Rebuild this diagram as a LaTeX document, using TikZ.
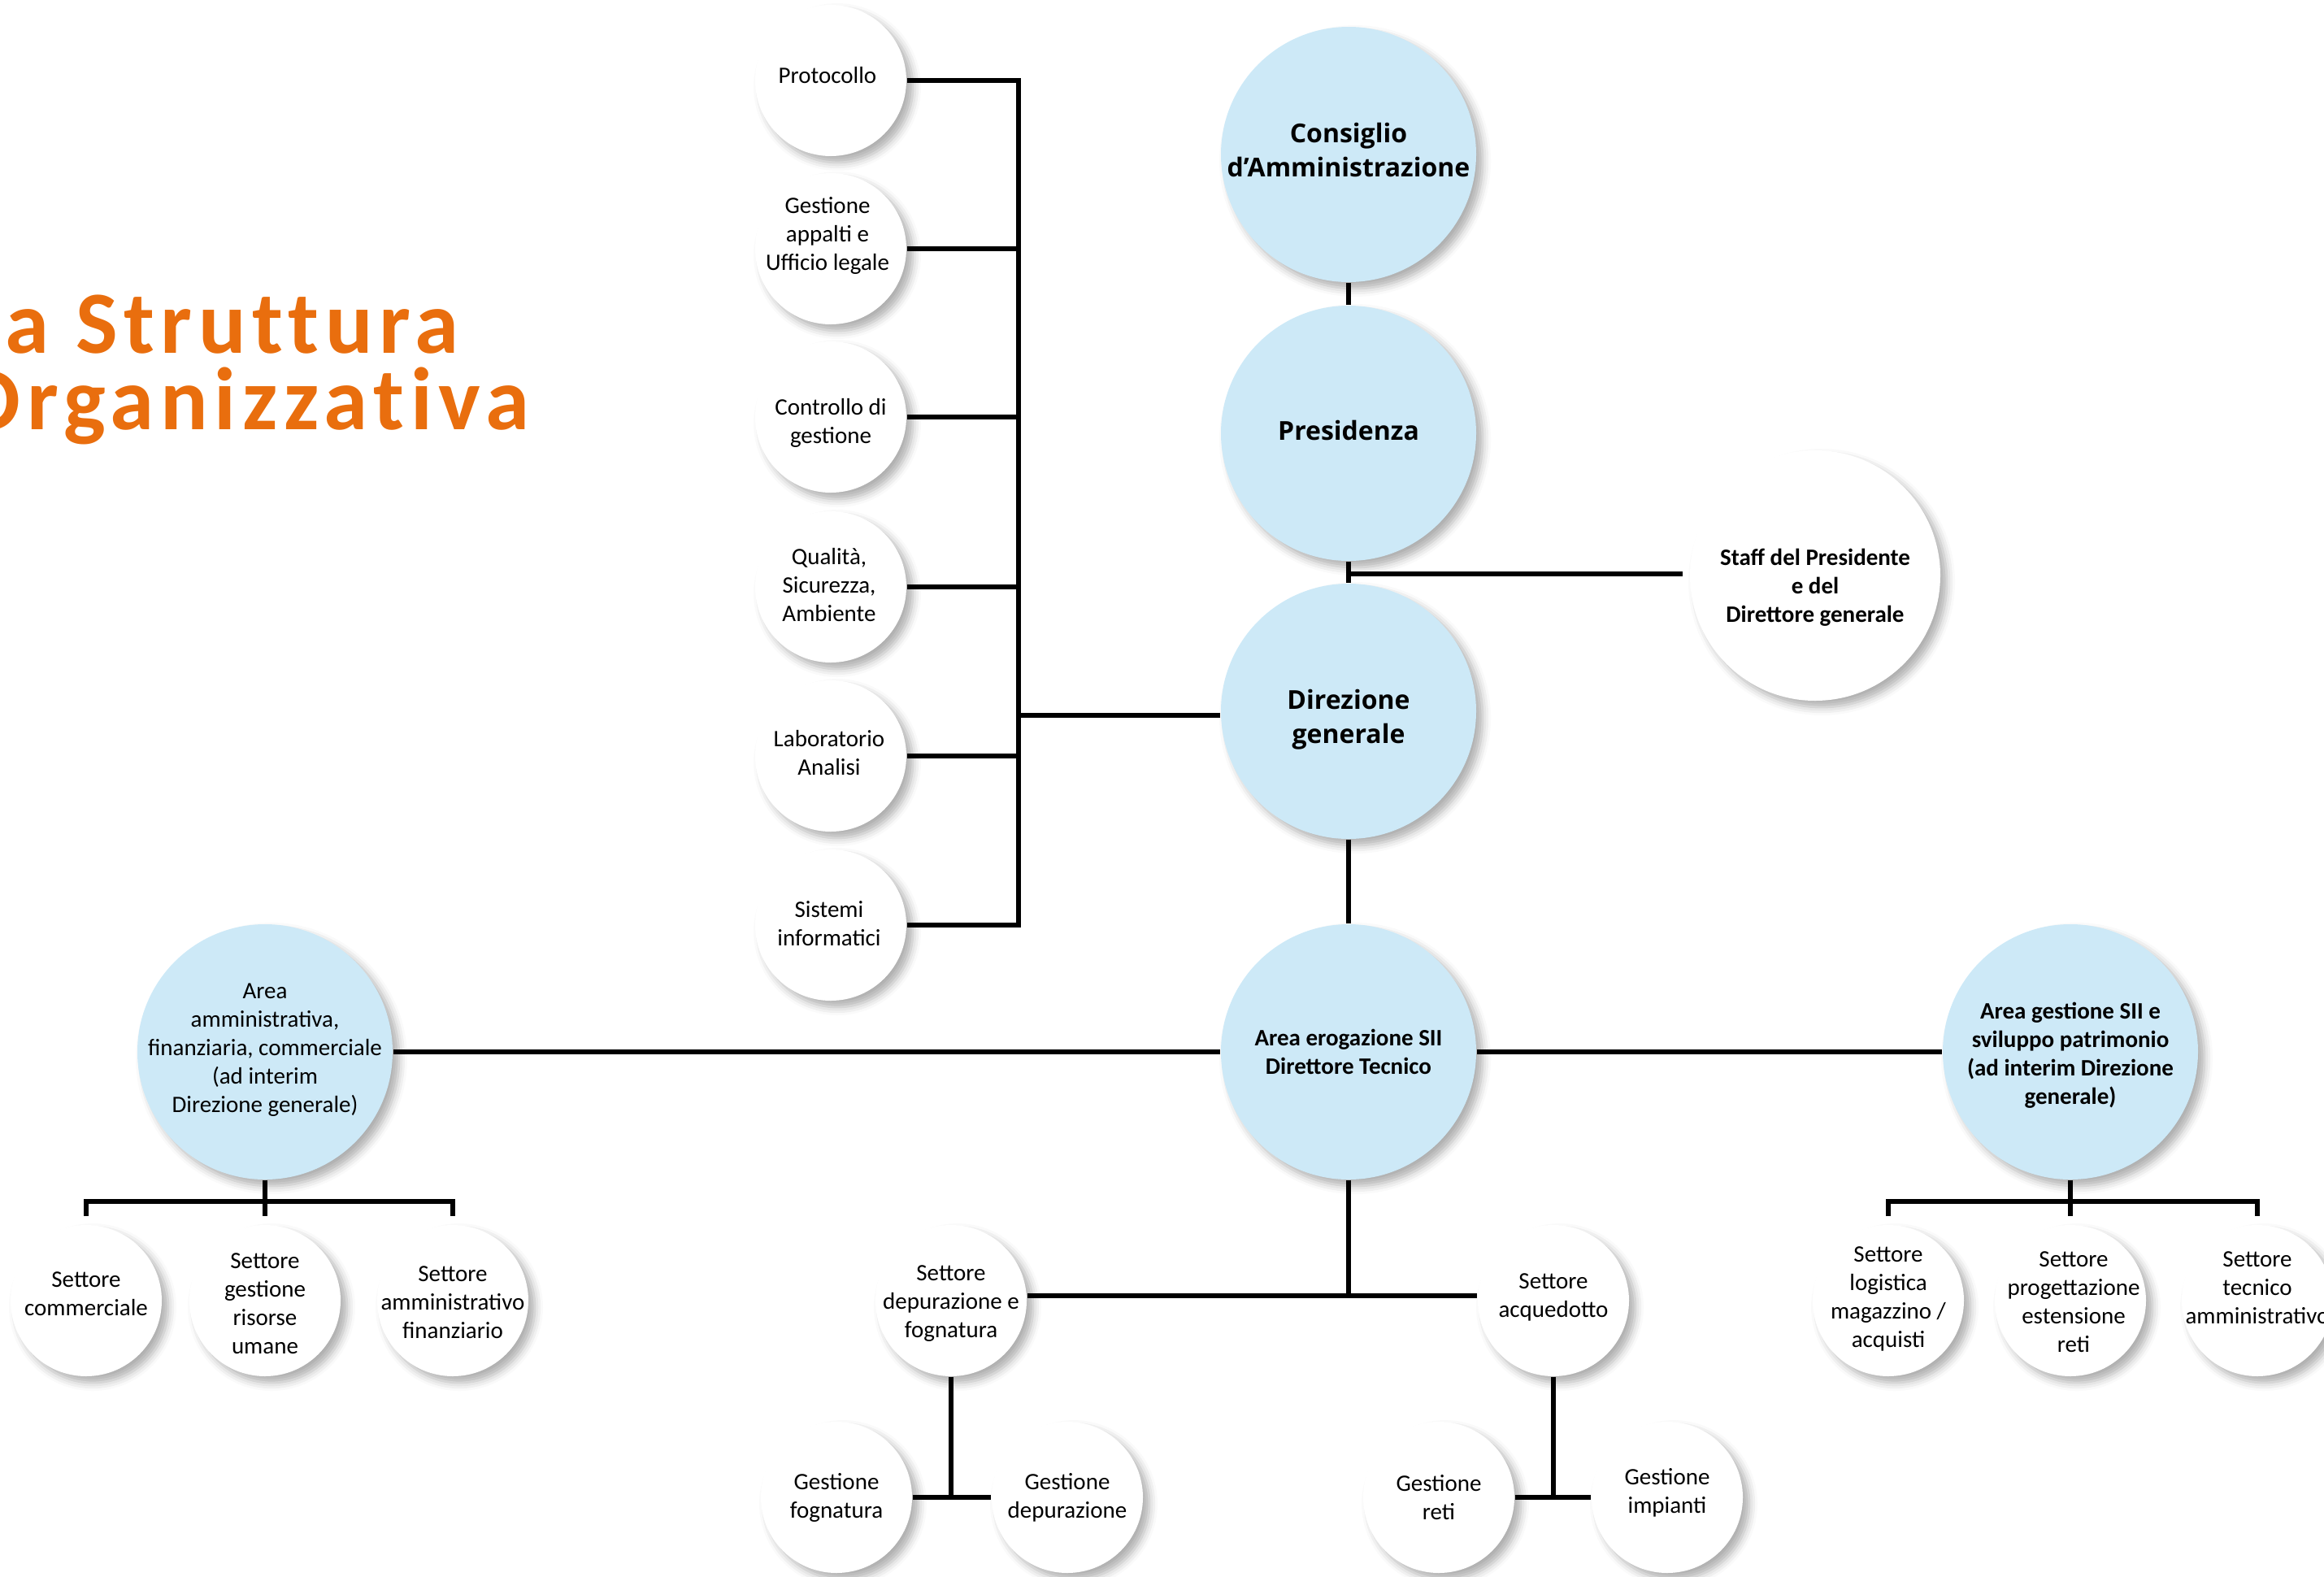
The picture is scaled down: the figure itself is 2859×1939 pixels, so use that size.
\documentclass[tikz,border=0pt]{standalone}
\usepackage{fontspec}
\setmainfont{Carlito}
\newfontfamily\titlefont[LetterSpace=7,Ligatures=NoCommon]{Carlito}
\newfontfamily\osfont{Open Sans}
\usetikzlibrary{shadows.blur}
\definecolor{orgorange}{RGB}{233,110,14}
\definecolor{boxblue}{RGB}{205,233,247}
\tikzset{
  base/.style={circle, inner sep=0pt, draw=none,
    blur shadow={shadow xshift=2pt, shadow yshift=-2pt, shadow blur radius=2.5pt, shadow opacity=32}},
  bigblue/.style={base, fill=boxblue, minimum size=78.5pt},
  bigwhite/.style={base, fill=white, minimum size=77pt},
  small/.style={base, fill=white, minimum size=46.5pt},
  txt/.style={align=center, inner sep=0pt, font=\fontsize{7.25}{8.75}\selectfont},
  txtb/.style={align=center, inner sep=0pt, font=\fontsize{7.25}{8.75}\selectfont\bfseries},
  txto/.style={align=center, inner sep=0pt, font=\osfont\fontsize{8}{10.5}\selectfont\bfseries},
  conn/.style={draw=black, line width=1.35pt},
  titletext/.style={text=orgorange, inner sep=0pt, align=left, font=\titlefont\fontsize{27.3}{23.3}\selectfont\bfseries}
}
\begin{document}
\begin{tikzpicture}[x=0.25pt,y=-0.25pt]
\useasboundingbox (0,0) rectangle (2859,1939);
\clip (0,0) rectangle (2859,1939);

% title
\node[titletext, anchor=base west] (title) at (6,528) {a Struttura\\\hspace*{-13.75pt}Organizzativa};

% main column
\node[bigblue, label={[txto,yshift=1.5pt]center:{Consiglio\\d’Amministrazione}}] (cons) at (1659,190) {};
\node[bigblue, label={[txto,yshift=1pt]center:{Presidenza}}] (pres) at (1659,533) {};
\node[bigblue, label={[txto,yshift=-2.5pt]center:{Direzione\\generale}}] (dir) at (1659,875) {};
\node[bigblue, label={[txtb]center:{Area erogazione SII\\Direttore Tecnico}}] (ero) at (1659,1294) {};
\node[bigwhite, label={[txtb,yshift=-3.6pt]center:{Staff del Presidente\\e del\\Direttore generale}}] (staff) at (2233,708) {};

% left column
\node[small, label={[txt,xshift=-1pt,yshift=1.5pt]center:{Protocollo}}] (p1) at (1022,99) {};
\node[small, label={[txt,xshift=-1pt,yshift=4pt]center:{Gestione\\appalti e\\Ufficio legale}}] (p2) at (1022,306) {};
\node[small, label={[txt,xshift=0pt,yshift=-1.8pt]center:{Controllo di\\gestione}}] (p3) at (1022,513) {};
\node[small, label={[txt,xshift=-0.5pt,yshift=0.5pt]center:{Qualità,\\Sicurezza,\\Ambiente}}] (p4) at (1022,722) {};
\node[small, label={[txt,xshift=-0.5pt,yshift=1pt]center:{Laboratorio\\Analisi}}] (p5) at (1022,930) {};
\node[small, label={[txt,xshift=-0.5pt,yshift=0.5pt]center:{Sistemi\\informatici}}] (p6) at (1022,1138) {};

% areas
\node[bigblue, label={[txt,yshift=0.5pt]center:{Area\\amministrativa,\\finanziaria, commerciale\\(ad interim\\Direzione generale)}}] (la) at (326,1294) {};
\node[bigblue, label={[txtb,yshift=-1pt]center:{Area gestione SII e\\sviluppo patrimonio\\(ad interim Direzione\\generale)}}] (ra) at (2547,1294) {};

% left area children
\node[small, label={[txt,yshift=2pt]center:{Settore\\commerciale}}] (com) at (106,1600) {};
\node[small, label={[txt,yshift=-1pt]center:{Settore\\gestione\\risorse\\umane}}] (ris) at (326,1600) {};
\node[small, label={[txt,yshift=-0.5pt]center:{Settore\\amministrativo\\finanziario}}] (amm) at (557,1600) {};

% right area children
\node[small, label={[txt,yshift=0.5pt]center:{Settore\\logistica\\magazzino /\\acquisti}}] (log) at (2323,1600) {};
\node[small, label={[txt,xshift=1pt,yshift=-0.5pt]center:{Settore\\progettazione\\estensione\\reti}}] (prog) at (2547,1600) {};
\node[small, label={[txt,yshift=4pt]center:{Settore\\tecnico\\amministrativo}}] (tec) at (2777,1600) {};

% erogazione children
\node[small, label={[txt,yshift=-1pt]center:{Settore\\depurazione e\\fognatura}}] (dep) at (1170,1600) {};
\node[small, label={[txt,yshift=1pt]center:{Settore\\acquedotto}}] (acq) at (1911,1600) {};
\node[small, label={[txt]center:{Gestione\\fognatura}}] (gf) at (1029,1842) {};
\node[small, label={[txt]center:{Gestione\\depurazione}}] (gd) at (1313,1842) {};
\node[small, label={[txt]center:{Gestione\\reti}}] (gr) at (1770,1842) {};
\node[small, label={[txt,yshift=1.5pt]center:{Gestione\\impianti}}] (gi) at (2051,1842) {};

% connectors
\draw[conn] (cons.south) -- (pres.north);
\draw[conn] (pres.south) -- (dir.north);
\coordinate (sj) at (1659,706);
\draw[conn, shorten >=2pt] (sj) -- (sj -| staff.west);
\draw[conn] (dir.south) -- (ero.north);

\coordinate (bx) at (1253,880);
\foreach \n in {p1,p2,p3,p4,p5,p6}{\draw[conn] (\n.east) -- (\n.east -| bx);}
\draw[conn, line cap=rect] (p1.east -| bx) -- (p6.east -| bx);
\draw[conn] (bx) -- (bx -| dir.west);

\draw[conn] (la.east) -- (ero.west);
\draw[conn] (ero.east) -- (ra.west);

\coordinate (lb) at (326,1478);
\draw[conn] (la.south) -- (lb);
\draw[conn] ([yshift=2.5pt]com.north) |- (lb) -| ([yshift=2.5pt]amm.north);
\draw[conn] (lb) -- ([yshift=2.5pt]ris.north);

\coordinate (rb) at (2547,1478);
\draw[conn] (ra.south) -- (rb);
\draw[conn] ([yshift=2.5pt]log.north) |- (rb) -| ([yshift=2.5pt]tec.north);
\draw[conn] (rb) -- ([yshift=2.5pt]prog.north);

\coordinate (ej) at (1659,1594);
\draw[conn] (ero.south) -- (ej);
\draw[conn] (ej -| dep.east) -- (ej -| acq.west);
\draw[conn] (dep.south) -- (dep.south |- gf.east);
\draw[conn] (gf.east) -- (gd.west);
\draw[conn] (acq.south) -- (acq.south |- gr.east);
\draw[conn] (gr.east) -- (gi.west);
\end{tikzpicture}
\end{document}
